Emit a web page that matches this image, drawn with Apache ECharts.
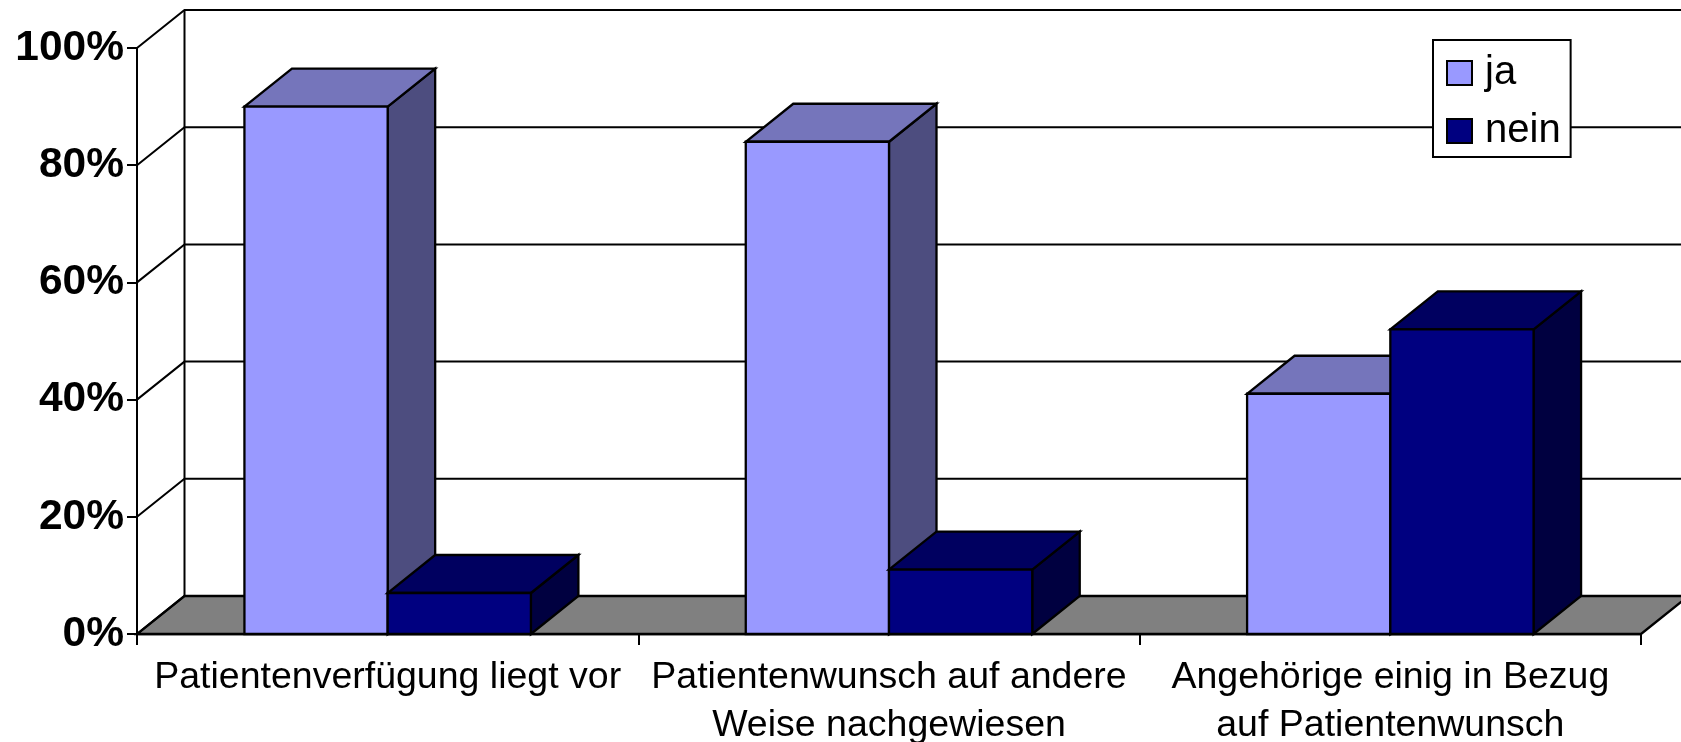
<!DOCTYPE html>
<html>
<head>
<meta charset="utf-8">
<style>html,body{margin:0;padding:0;background:#fff}#c{width:1681px;height:742px}</style>
<script src="https://cdn.jsdelivr.net/npm/echarts@6/dist/echarts.min.js"></script>
</head>
<body>
<div id="c"></div>
<script>
var categories = ['Patientenverfügung liegt vor', 'Patientenwunsch auf andere\nWeise nachgewiesen', 'Angehörige einig in Bezug\nauf Patientenwunsch'];
var jaValues = [90, 84, 41];
var neinValues = [7, 11, 52];
var yTicks = [0, 20, 40, 60, 80, 100];

var DX = 47.5, DY = -38, GAP = 1.5;
var FONT = '"Liberation Sans", Arial, sans-serif';
var EDGE = {stroke: '#000', lineWidth: 2.3};

function wallItem(params, api) {
  var cs = params.coordSys;
  var v = api.value(0);
  var y = api.coord([0, v])[1];
  var x0 = cs.x, x1 = cs.x + cs.width;
  var children = [];
  if (v === 0) {
    children.push({type: 'polygon', shape: {points: [[x0, y], [x1, y], [x1 + DX, y + DY], [x0 + DX, y + DY]]},
      style: {fill: '#808080', stroke: '#000', lineWidth: 2.3}});
    children.push({type: 'line', shape: {x1: x0 + DX, y1: y + DY, x2: x0 + DX, y2: cs.y + DY},
      style: {stroke: '#000', lineWidth: 2}});
  }
  children.push({type: 'polyline', shape: {points: [[x0, y], [x0 + DX, y + DY], [x1 + DX, y + DY]]},
    style: {fill: 'none', stroke: '#000', lineWidth: 2}});
  return {type: 'group', children: children};
}

function boxItem(slot, front, top, side) {
  return function (params, api) {
    var idx = api.value(0), val = api.value(1);
    var center = api.coord([idx, 0])[0];
    var w = api.size([1, 0])[0] / (2 + GAP);
    var xa = center + slot * w, xb = xa + w;
    var yb = api.coord([idx, 0])[1], yt = api.coord([idx, val])[1];
    return {type: 'group', children: [
      {type: 'polygon', shape: {points: [[xb, yb], [xb + DX, yb + DY], [xb + DX, yt + DY], [xb, yt]]},
        style: Object.assign({fill: side}, EDGE)},
      {type: 'polygon', shape: {points: [[xa, yt], [xb, yt], [xb + DX, yt + DY], [xa + DX, yt + DY]]},
        style: Object.assign({fill: top}, EDGE)},
      {type: 'rect', shape: {x: xa, y: yt, width: w, height: yb - yt},
        style: Object.assign({fill: front}, EDGE)}
    ]};
  };
}

function pairs(values) {
  return values.map(function (v, i) { return [i, v]; });
}

var chart = echarts.init(document.getElementById('c'), null, {renderer: 'canvas'});
chart.setOption({
  animation: false,
  backgroundColor: '#fff',
  grid: {left: 137, right: 40, top: 48, bottom: 108, outerBoundsMode: 'none'},
  legend: {
    data: ['ja', 'nein'],
    orient: 'vertical',
    left: 1433,
    top: 40,
    padding: [13, 10, 6, 13],
    itemWidth: 25,
    itemHeight: 24,
    itemGap: 18,
    icon: 'rect',
    backgroundColor: '#fff',
    borderColor: '#000',
    borderWidth: 2,
    borderRadius: 0,
    itemStyle: {borderColor: '#000', borderWidth: 2},
    textStyle: {fontFamily: FONT, fontSize: 40, color: '#000', padding: [0, 0, 0, 8]},
    z: 20
  },
  xAxis: {
    type: 'category',
    data: categories,
    axisLine: {show: true, lineStyle: {color: '#000', width: 2.3}},
    axisTick: {show: true, length: 11, lineStyle: {color: '#000', width: 2}},
    axisLabel: {interval: 0, margin: 20, fontFamily: FONT, fontSize: 37.5, color: '#000', lineHeight: 48},
    splitLine: {show: false}
  },
  yAxis: {
    type: 'value',
    min: 0,
    max: 100,
    interval: 20,
    axisLine: {show: true, lineStyle: {color: '#000', width: 2}},
    axisTick: {show: true, length: 10, lineStyle: {color: '#000', width: 2}},
    axisLabel: {formatter: '{value}%', margin: 13, padding: [14, 0, 0, 0], fontFamily: FONT, fontWeight: 'bold', fontSize: 42.5, color: '#000'},
    splitLine: {show: false}
  },
  series: [
    {type: 'custom', name: 'wall', silent: true, z: 1, renderItem: wallItem,
      data: yTicks.map(function (t) { return [t]; }), encode: {y: 0}},
    {type: 'custom', name: 'ja', z: 3, renderItem: boxItem(-1, '#9999ff', '#7575bb', '#4d4d7f'),
      itemStyle: {color: '#9999ff'}, data: pairs(jaValues), encode: {x: 0, y: 1}},
    {type: 'custom', name: 'nein', z: 4, renderItem: boxItem(0, '#000080', '#000060', '#000040'),
      itemStyle: {color: '#000080'}, data: pairs(neinValues), encode: {x: 0, y: 1}}
  ]
});
</script>
</body>
</html>
